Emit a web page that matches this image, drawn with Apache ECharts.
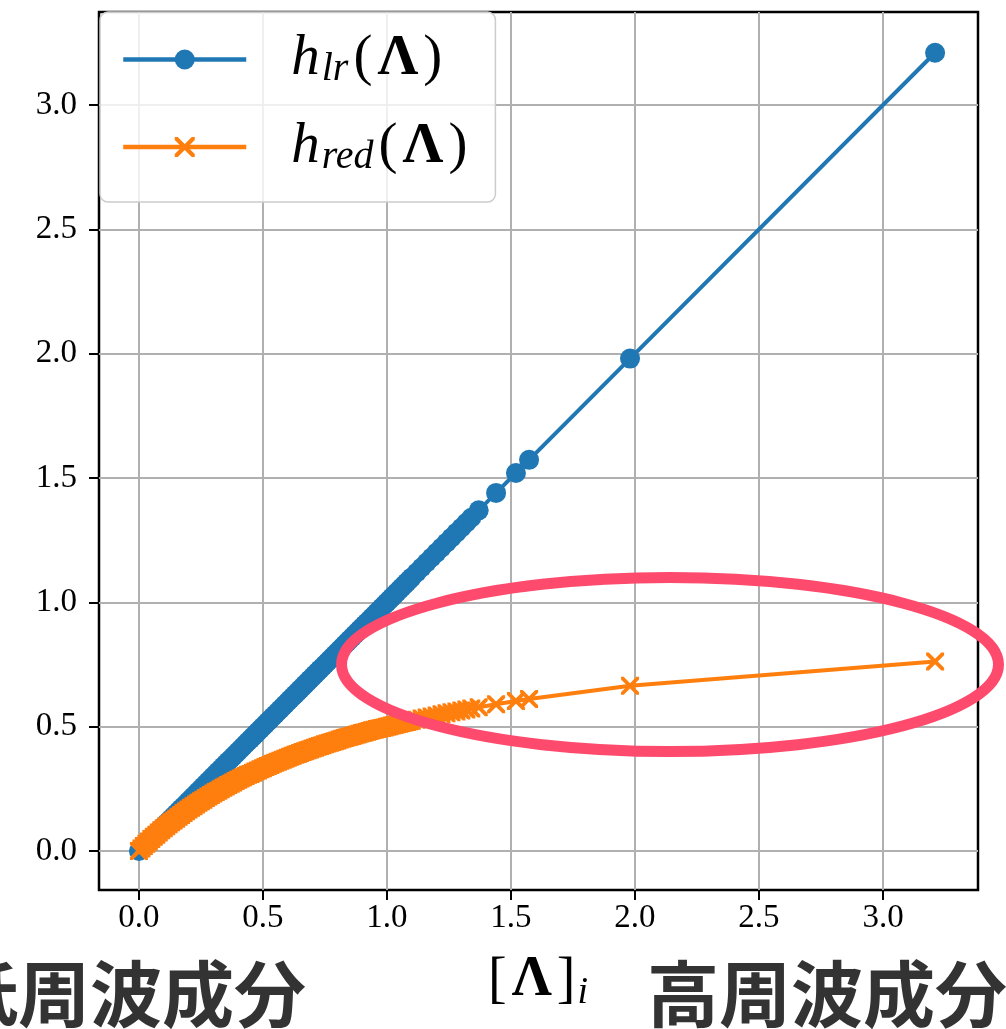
<!DOCTYPE html>
<html>
<head>
<meta charset="utf-8">
<script src="https://cdn.jsdelivr.net/npm/echarts@6/dist/echarts.min.js"></script>
<style>
html,body{margin:0;padding:0;background:#fff;}
#chart{width:1006px;height:1029px;}
</style>
</head>
<body>
<div id="chart"></div>
<script>
// ---- data ----
const lambdaVals = [0.00,0.01,0.02,0.03,0.04,0.05,0.06,0.07,0.08,0.09,0.10,0.11,0.12,0.13,0.14,0.15,0.16,0.17,0.18,0.19,0.20,0.21,0.22,0.23,0.24,0.25,0.26,0.27,0.28,0.29,0.30,0.31,0.32,0.33,0.34,0.35,0.36,0.37,0.38,0.39,0.40,0.41,0.42,0.43,0.44,0.45,0.46,0.47,0.48,0.49,0.50,0.51,0.52,0.53,0.54,0.55,0.56,0.57,0.58,0.59,0.60,0.61,0.62,0.63,0.64,0.65,0.66,0.67,0.68,0.69,0.70,0.71,0.72,0.73,0.74,0.75,0.76,0.77,0.78,0.79,0.80,0.81,0.82,0.83,0.84,0.85,0.86,0.87,0.88,0.89,0.90,0.91,0.92,0.93,0.94,0.95,0.96,0.97,0.98,0.99,1.00,1.01,1.02,1.03,1.04,1.05,1.06,1.07,1.08,1.09,1.10,1.12,1.14,1.16,1.18,1.20,1.22,1.24,1.26,1.28,1.30,1.32,1.34,1.37,1.44,1.52,1.573,1.98,3.21];
const hLr = [0.00,0.01,0.02,0.03,0.04,0.05,0.06,0.07,0.08,0.09,0.10,0.11,0.12,0.13,0.14,0.15,0.16,0.17,0.18,0.19,0.20,0.21,0.22,0.23,0.24,0.25,0.26,0.27,0.28,0.29,0.30,0.31,0.32,0.33,0.34,0.35,0.36,0.37,0.38,0.39,0.40,0.41,0.42,0.43,0.44,0.45,0.46,0.47,0.48,0.49,0.50,0.51,0.52,0.53,0.54,0.55,0.56,0.57,0.58,0.59,0.60,0.61,0.62,0.63,0.64,0.65,0.66,0.67,0.68,0.69,0.70,0.71,0.72,0.73,0.74,0.75,0.76,0.77,0.78,0.79,0.80,0.81,0.82,0.83,0.84,0.85,0.86,0.87,0.88,0.89,0.90,0.91,0.92,0.93,0.94,0.95,0.96,0.97,0.98,0.99,1.00,1.01,1.02,1.03,1.04,1.05,1.06,1.07,1.08,1.09,1.10,1.12,1.14,1.16,1.18,1.20,1.22,1.24,1.26,1.28,1.30,1.32,1.34,1.37,1.44,1.52,1.573,1.98,3.21];
const hRed = [0.000,0.010,0.020,0.029,0.038,0.048,0.057,0.065,0.074,0.083,0.091,0.099,0.107,0.115,0.123,0.130,0.138,0.145,0.153,0.160,0.167,0.174,0.180,0.187,0.194,0.200,0.206,0.213,0.219,0.225,0.231,0.237,0.242,0.248,0.254,0.259,0.265,0.270,0.275,0.281,0.286,0.291,0.296,0.301,0.306,0.310,0.315,0.320,0.324,0.329,0.333,0.338,0.342,0.346,0.351,0.355,0.359,0.363,0.367,0.371,0.375,0.379,0.383,0.387,0.390,0.394,0.398,0.401,0.405,0.408,0.412,0.415,0.419,0.422,0.425,0.429,0.432,0.435,0.438,0.441,0.444,0.448,0.451,0.454,0.457,0.459,0.462,0.465,0.468,0.471,0.474,0.476,0.479,0.482,0.485,0.487,0.490,0.492,0.495,0.497,0.500,0.502,0.505,0.507,0.510,0.512,0.515,0.517,0.519,0.522,0.524,0.528,0.533,0.537,0.541,0.545,0.550,0.554,0.558,0.561,0.565,0.569,0.573,0.578,0.590,0.603,0.611,0.664,0.762];
const xTicks = [0, 0.5, 1.0, 1.5, 2.0, 2.5, 3.0];
const yTicks = [0, 0.5, 1.0, 1.5, 2.0, 2.5, 3.0];
const seriesNames = ['hlr', 'hred'];
const legendLabels = {
  hlr: '{sp| }{it|h}{sub|lr}{rm|(}{bf|Λ}{rm|)}',
  hred: '{sp| }{it|h}{sub|red}{rm|(}{bf|Λ}{rm|)}'
};
const xAxisLabel = '{rm|[}{bf|Λ}{rm|]}{sub|i}';
const leftNote = '低周波成分';
const rightNote = '高周波成分';

// ---- styling ----
const SERIF = 'Liberation Serif';
const BLUE = '#1f77b4', ORANGE = '#ff7f0e', PINK = '#fe4a6c';
const X_SYMBOL = 'path://M0,0L15,0L50,35L85,0L100,0L100,15L65,50L100,85L100,100L85,100L50,65L15,100L0,100L0,85L35,50L0,15Z';

function rich(big, sub, lh) {
  return {
    sp: {width: 40, fontSize: big, lineHeight: lh},
    it: {fontFamily: SERIF, fontStyle: 'italic', fontSize: big, lineHeight: lh, color: '#000', padding: [0, 2, 0, 0]},
    sub: {fontFamily: SERIF, fontStyle: 'italic', fontSize: sub, lineHeight: Math.round(lh * 0.56), verticalAlign: 'bottom', color: '#000', padding: [0, 3, 0, 0]},
    rm: {fontFamily: SERIF, fontSize: big, lineHeight: lh, color: '#000', padding: [0, 2, 0, 2]},
    bf: {fontFamily: SERIF, fontWeight: 'bold', fontSize: big, lineHeight: lh, color: '#000', padding: [0, 3, 0, 3]}
  };
}

const chart = echarts.init(document.getElementById('chart'), null, {renderer: 'canvas'});
const fmt = v => v.toFixed(1);

chart.setOption({
  animation: false,
  backgroundColor: '#fff',
  grid: {left: 99, right: 28, top: 12, bottom: 139, show: true, borderColor: '#000', borderWidth: 2.5, backgroundColor: 'transparent'},
  xAxis: {
    type: 'value', min: -0.161, max: 3.383,
    axisLine: {show: false, onZero: false},
    axisTick: {show: true, customValues: xTicks, length: 10, lineStyle: {color: '#000', width: 2}},
    axisLabel: {customValues: xTicks, formatter: fmt, fontFamily: SERIF, fontSize: 33, color: '#000', margin: 12},
    splitLine: {show: true, lineStyle: {color: '#b0b0b0', width: 2}},
    name: xAxisLabel, nameLocation: 'middle', nameGap: 60,
    nameTextStyle: {fontFamily: SERIF, rich: rich(56, 38, 62)}
  },
  yAxis: {
    type: 'value', min: -0.157, max: 3.374,
    axisLine: {show: false, onZero: false},
    axisTick: {show: true, customValues: yTicks, length: 10, lineStyle: {color: '#000', width: 2}},
    axisLabel: {customValues: yTicks, formatter: fmt, fontFamily: SERIF, fontSize: 33, color: '#000', margin: 22},
    splitLine: {show: true, lineStyle: {color: '#b0b0b0', width: 2}}
  },
  legend: {
    orient: 'vertical', left: 100, top: 12,
    data: seriesNames,
    itemWidth: 123, itemHeight: 25, itemGap: 29,
    padding: [19, 26, 25, 21],
    backgroundColor: 'rgba(255,255,255,0.8)',
    borderColor: '#cccccc', borderWidth: 1.5, borderRadius: 8,
    lineStyle: {width: 4.5},
    formatter: n => legendLabels[n],
    textStyle: {fontFamily: SERIF, rich: rich(57, 40, 60)},
    z: 20
  },
  series: [
    {
      type: 'line', name: seriesNames[0],
      data: lambdaVals.map((x, i) => [x, hLr[i]]),
      symbol: 'circle', symbolSize: 20, showSymbol: true, showAllSymbol: true,
      lineStyle: {color: BLUE, width: 4}, itemStyle: {color: BLUE},
      z: 3
    },
    {
      type: 'line', name: seriesNames[1],
      data: lambdaVals.map((x, i) => [x, hRed[i]]),
      symbol: X_SYMBOL, symbolSize: 18, showSymbol: true, showAllSymbol: true,
      lineStyle: {color: ORANGE, width: 4}, itemStyle: {color: ORANGE},
      z: 4
    }
  ],
  graphic: [
    {type: 'ellipse', z: 50, shape: {cx: 670, cy: 664.5, rx: 328.5, ry: 87}, style: {fill: 'none', stroke: PINK, lineWidth: 11}},
    {type: 'text', z: 50, x: 306, y: 958, style: {text: leftNote, fill: '#333333', font: 'bold 72px "Noto Sans CJK JP"', textAlign: 'right', textVerticalAlign: 'top'}},
    {type: 'text', z: 50, x: 647, y: 958, style: {text: rightNote, fill: '#333333', font: 'bold 72px "Noto Sans CJK JP"', textAlign: 'left', textVerticalAlign: 'top'}}
  ]
});
</script>
</body>
</html>
